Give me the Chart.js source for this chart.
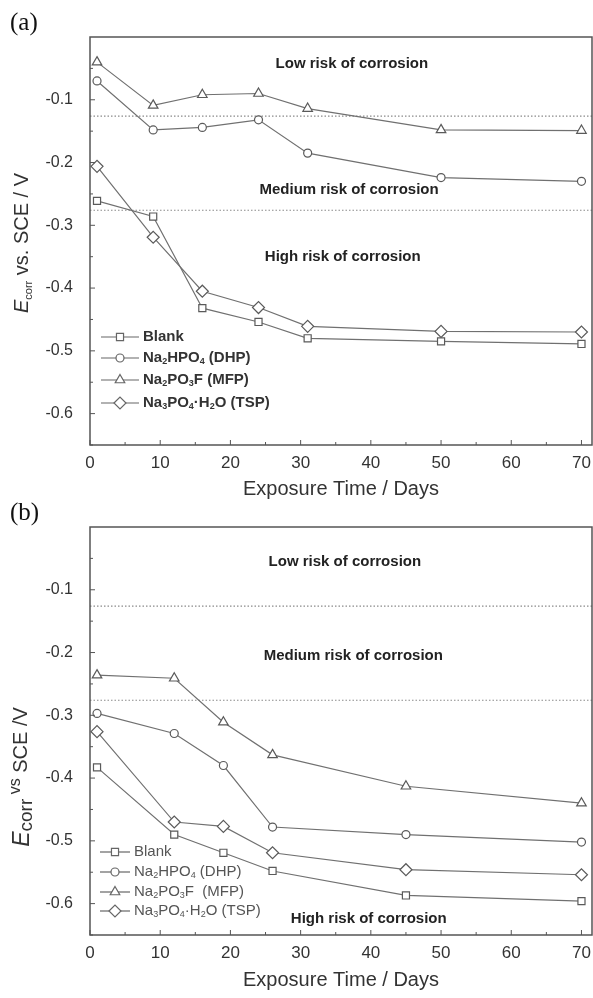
<!DOCTYPE html>
<html>
<head>
<meta charset="utf-8">
<script src="https://cdn.jsdelivr.net/npm/chart.js@4.4.1/dist/chart.umd.min.js"></script>
<style>
  html, body { margin: 0; padding: 0; background: #fff; }
  #wrap { width: 593px; height: 998px; position: relative; }
  canvas { display: block; position: absolute; left: 0; }
</style>
</head>
<body>
<div id="wrap">
  <canvas id="chartA" width="593" height="505" style="top:0"></canvas>
  <canvas id="chartB" width="593" height="508" style="top:490px"></canvas>
</div>
<script>
// panel (a)
const daysA  = [1, 9, 16, 24, 31, 50, 70];
const blankA = [-0.261, -0.286, -0.432, -0.454, -0.480, -0.485, -0.489];
const dhpA   = [-0.070, -0.148, -0.144, -0.132, -0.185, -0.224, -0.230];
const mfpA   = [-0.040, -0.109, -0.092, -0.090, -0.114, -0.148, -0.149];
const tspA   = [-0.206, -0.319, -0.405, -0.431, -0.461, -0.469, -0.470];

// panel (b)
const daysB  = [1, 12, 19, 26, 45, 70];
const blankB = [-0.383, -0.490, -0.519, -0.548, -0.587, -0.596];
const dhpB   = [-0.297, -0.329, -0.380, -0.478, -0.490, -0.502];
const mfpB   = [-0.236, -0.241, -0.311, -0.363, -0.413, -0.440];
const tspB   = [-0.326, -0.470, -0.477, -0.519, -0.546, -0.554];

const namesA = ['Blank', 'Na_2HPO_4 (DHP)', 'Na_2PO_3F (MFP)', 'Na_3PO_4·H_2O (TSP)'];
const namesB = ['Blank', 'Na_2HPO_4 (DHP)', 'Na_2PO_3F  (MFP)', 'Na_3PO_4·H_2O (TSP)'];
const xTickLabels = [0, 10, 20, 30, 40, 50, 60, 70];
const yTickLabels = [-0.1, -0.2, -0.3, -0.4, -0.5, -0.6];
const riskLimits = [-0.126, -0.276];
const riskNames = ['Low risk of corrosion', 'Medium risk of corrosion', 'High risk of corrosion'];

const FONT = '"Liberation Sans", Arial, sans-serif';
Chart.defaults.font.family = FONT;

const styles = [
  { pointStyle: 'rect', radius: 5 },
  { pointStyle: 'circle', radius: 4 },
  { pointStyle: 'triangle', radius: 5.5 },
  { pointStyle: 'rectRot', radius: 6 }
];

function drawRich(ctx, segs, x, y) {
  let cx = x;
  segs.forEach(s => {
    ctx.font = s.font;
    ctx.fillText(s.t, cx, y + (s.dy || 0));
    cx += ctx.measureText(s.t).width;
  });
  return cx - x;
}
function richWidth(ctx, segs) {
  let w = 0;
  segs.forEach(s => { ctx.font = s.font; w += ctx.measureText(s.t).width; });
  return w;
}
function subSegs(label, font, subFont, dy) {
  return label.split(/_(\d)/).map((t, i) => i % 2 ? { t, font: subFont, dy } : { t, font });
}

const decor = {
  id: 'decor',
  afterDraw(chart, args, o) {
    const { ctx, chartArea: a, scales: { x, y } } = chart;
    ctx.save();
    ctx.fillStyle = '#333';
    // frame
    ctx.strokeStyle = '#555';
    ctx.lineWidth = 1.5;
    ctx.strokeRect(a.left, a.top, a.right - a.left, a.bottom - a.top);
    // inward ticks
    ctx.lineWidth = 1;
    ctx.beginPath();
    for (let v = 0; v <= 70; v += 5) {
      const px = x.getPixelForValue(v), len = v % 10 === 0 ? 5 : 3;
      ctx.moveTo(px, a.bottom); ctx.lineTo(px, a.bottom - len);
    }
    for (let k = 1; k <= 13; k++) {
      const py = y.getPixelForValue(-k * 0.05), len = k % 2 === 0 ? 5 : 3;
      ctx.moveTo(a.left, py); ctx.lineTo(a.left + len, py);
    }
    ctx.stroke();

    // panel letter
    ctx.font = '25px "Liberation Serif", serif';
    ctx.textAlign = 'left';
    ctx.textBaseline = 'middle';
    ctx.fillStyle = '#111';
    ctx.fillText(o.letter, 10, 23);

    // x title
    ctx.fillStyle = '#333';
    ctx.font = '20px ' + FONT;
    ctx.textAlign = 'center';
    ctx.fillText('Exposure Time / Days', (a.left + a.right) / 2, o.xTitleY);

    // y title
    ctx.save();
    ctx.translate(o.yTitle.x, o.yTitle.y);
    ctx.rotate(-Math.PI / 2);
    ctx.textAlign = 'left';
    ctx.textBaseline = 'alphabetic';
    const w = richWidth(ctx, o.yTitle.segs);
    drawRich(ctx, o.yTitle.segs, -w / 2, 0);
    ctx.restore();

    // risk notes
    ctx.font = o.noteFont;
    ctx.textAlign = 'center';
    ctx.textBaseline = 'middle';
    ctx.fillStyle = '#222';
    o.notes.forEach(n => ctx.fillText(n.text, x.getPixelForValue(n.x), y.getPixelForValue(n.y)));

    // legend
    const L = o.legend;
    ctx.textAlign = 'left';
    ctx.textBaseline = 'middle';
    L.names.forEach((name, i) => {
      const ds = chart.data.datasets[i], ry = L.rows[i];
      ctx.strokeStyle = '#666';
      ctx.lineWidth = 1.2;
      ctx.beginPath();
      ctx.moveTo(L.x, ry); ctx.lineTo(L.x + L.len, ry);
      ctx.stroke();
      ctx.fillStyle = '#fff';
      Chart.helpers.drawPoint(ctx, { pointStyle: ds.pointStyle, radius: ds.pointRadius, borderWidth: 1.2, rotation: 0 }, L.x + L.len / 2, ry);
      ctx.fillStyle = L.color;
      drawRich(ctx, subSegs(name, L.font, L.subFont, 4), L.x + L.len + 4, ry);
    });
    ctx.restore();
  }
};

function makeChart(id, days, series, names, opts) {
  const datasets = series.map((vals, i) => ({
    label: names[i],
    data: days.map((d, j) => ({ x: d, y: vals[j] })),
    borderColor: '#707070',
    borderWidth: 1.2,
    pointStyle: styles[i].pointStyle,
    pointRadius: styles[i].radius,
    pointBorderColor: '#5a5a5a',
    pointBackgroundColor: '#fff',
    pointBorderWidth: 1.2,
    tension: 0
  }));
  riskLimits.forEach(v => datasets.push({
    label: 'limit',
    data: [{ x: 0, y: v }, { x: 71.5, y: v }],
    borderColor: '#8a8a8a',
    borderWidth: 1.2,
    borderDash: [1.5, 2],
    pointRadius: 0
  }));
  return new Chart(document.getElementById(id), {
    type: 'line',
    data: { datasets },
    plugins: [decor],
    options: {
      responsive: false,
      animation: false,
      layout: { autoPadding: false, padding: { top: 37, right: 1, left: 0, bottom: 0 } },
      plugins: {
        legend: { display: false },
        tooltip: { enabled: false },
        decor: opts
      },
      scales: {
        x: {
          type: 'linear', min: 0, max: 71.5,
          afterFit: s => { s.height = opts.xAxisHeight; s.paddingLeft = 0; s.paddingRight = 0; },
          grid: { display: false, drawTicks: false },
          border: { display: false },
          ticks: {
            stepSize: 10, includeBounds: false, padding: 8,
            color: '#333', font: { size: 17 }, maxRotation: 0,
            callback: v => xTickLabels.includes(v) ? String(v) : ''
          }
        },
        y: {
          min: -0.65, max: 0,
          afterFit: s => { s.width = 90; s.paddingTop = 0; s.paddingBottom = 0; },
          grid: { display: false, drawTicks: false },
          border: { display: false },
          ticks: {
            stepSize: 0.1, includeBounds: false, padding: 17,
            color: '#333', font: { size: 16 },
            callback: v => {
              const r = Math.round(v * 10) / 10;
              return yTickLabels.includes(r) && Math.abs(r - v) < 1e-6 ? r.toFixed(1) : '';
            }
          }
        }
      }
    }
  });
}

makeChart('chartA', daysA, [blankA, dhpA, mfpA, tspA], namesA, {
  letter: '(a)',
  xAxisHeight: 60,
  xTitleY: 489,
  yTitle: {
    x: 28, y: 243,
    segs: [
      { t: 'E', font: 'italic 20px ' + FONT },
      { t: 'corr', font: '11px ' + FONT, dy: 4 },
      { t: ' vs. SCE / V', font: '20px ' + FONT }
    ]
  },
  noteFont: 'bold 15px ' + FONT,
  notes: [
    { text: riskNames[0], x: 37.3, y: -0.043 },
    { text: riskNames[1], x: 36.9, y: -0.244 },
    { text: riskNames[2], x: 36.0, y: -0.351 }
  ],
  legend: {
    names: namesA, x: 101, len: 38, rows: [337, 358, 380, 403],
    font: 'bold 15px ' + FONT, subFont: 'bold 9px ' + FONT, color: '#333'
  }
});

makeChart('chartB', daysB, [blankB, dhpB, mfpB, tspB], namesB, {
  letter: '(b)',
  xAxisHeight: 63,
  xTitleY: 490,
  yTitle: {
    x: 29, y: 287,
    segs: [
      { t: 'E', font: 'italic 23px ' + FONT },
      { t: 'corr', font: '19px ' + FONT, dy: 3 },
      { t: ' vs', font: '16px ' + FONT, dy: -9 },
      { t: ' SCE /V', font: '20px ' + FONT, dy: -2 }
    ]
  },
  noteFont: 'bold 15px ' + FONT,
  notes: [
    { text: riskNames[0], x: 36.3, y: -0.056 },
    { text: riskNames[1], x: 37.5, y: -0.206 },
    { text: riskNames[2], x: 39.7, y: -0.624 }
  ],
  legend: {
    names: namesB, x: 100, len: 30, rows: [362, 382, 402, 421],
    font: '15px ' + FONT, subFont: '9px ' + FONT, color: '#555'
  }
});
</script>
</body>
</html>
